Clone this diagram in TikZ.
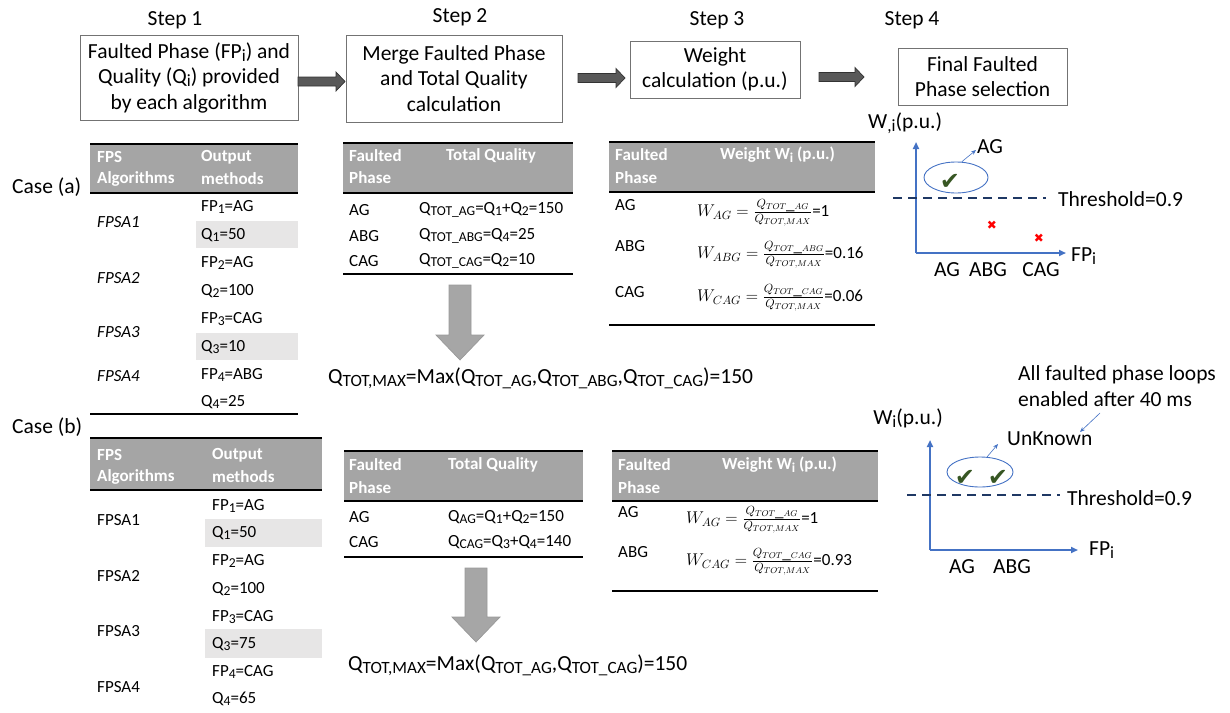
\documentclass[tikz,border=0pt]{standalone}
\usepackage{fix-cm}
\usepackage{fontspec}
\setmainfont{Carlito}
\newfontfamily\symfont{DejaVu Sans}
\usetikzlibrary{shapes.geometric,arrows.meta}
\definecolor{hdrgray}{HTML}{A5A5A5}
\definecolor{bandgray}{HTML}{E7E6E6}
\definecolor{axisblue}{HTML}{4472C4}
\definecolor{navy}{HTML}{1F3864}
\definecolor{okgreen}{HTML}{375623}
\definecolor{fatgray}{HTML}{595959}
\definecolor{downgray}{HTML}{A6A6A6}
\newcommand\fbig{\fontsize{21.5}{25.5}\selectfont}
\newcommand\ftab{\fontsize{17}{20}\selectfont}
\makeatletter
\newcommand\sbs[1]{\raisebox{-0.3ex}{\fontsize{\the\dimexpr 0.8\dimexpr\f@size pt\relax\relax}{0pt}\selectfont #1}}
\makeatother
% block arrow pointing right: x1, x2, y
\newcommand\fatarr[3]{\filldraw[fatarrow] (#1,#3-4.5) -- (#2-9,#3-4.5) -- (#2-9,#3-9.5) -- (#2,#3) -- (#2-9,#3+9.5) -- (#2-9,#3+4.5) -- (#1,#3+4.5) -- cycle;}
% block arrow pointing down: x, y1, y2
\newcommand\downarr[3]{\filldraw[downarrow] (#1-11,#2) -- (#1+11,#2) -- (#1+11,#3-25) -- (#1+24,#3-25) -- (#1,#3) -- (#1-24,#3-25) -- (#1-11,#3-25) -- cycle;}
\begin{document}
\begin{tikzpicture}[x=1pt,y=-1pt,
 stepbox/.style={draw=black!55, line width=0.8pt, align=center, font=\fbig, inner sep=0pt},
 biglbl/.style={font=\fbig, inner sep=0pt},
 tab/.style={font=\ftab, anchor=west, inner sep=0pt},
 hdr/.style={font=\ftab\bfseries, text=white, anchor=west, inner sep=0pt},
 rule/.style={line width=2.2pt},
 fatarrow/.style={draw=black!80, fill=fatgray, line width=0.7pt, line join=miter},
 downarrow/.style={draw=black!40, fill=downgray, line width=0.7pt, line join=miter},
 axis/.style={axisblue, line width=2pt, -{Triangle[length=7pt,width=6pt]}},
 thr/.style={navy, line width=1.5pt, dash pattern=on 9pt off 6pt},
 thinarrow/.style={axisblue, line width=0.6pt, -{Stealth[length=5pt,width=4pt]}},
 ring/.style={ellipse, draw=axisblue, line width=0.9pt, inner sep=0pt},
 check/.style={font=\symfont\fontsize{24}{26}\selectfont, text=okgreen, inner sep=0pt},
 xmark/.style={font=\symfont\fontsize{12}{14}\selectfont, text=red, inner sep=0pt}
]
\useasboundingbox (0,0) rectangle (1230,712);

% ---------- steps ----------
\node[biglbl] (s1) at (175,20) {Step 1};
\node[biglbl] (s2) at (460,17) {Step 2};
\node[biglbl] (s3) at (717,20) {Step 3};
\node[biglbl] (s4) at (912,20) {Step 4};

\node[stepbox, minimum width=218, minimum height=85] (b1) at (189,77.5) {Faulted Phase (FP\sbs{i}) and\\Quality (Q\sbs{i}) provided\\by each algorithm};
\node[stepbox, minimum width=216, minimum height=87] (b2) at (454,78.5) {Merge Faulted Phase\\and Total Quality\\calculation};
\node[stepbox, minimum width=170, minimum height=57] (b3) at (715,69.5) {Weight\\calculation (p.u.)};
\node[stepbox, minimum width=169, minimum height=57] (b4) at (982.5,76.5) {Final Faulted\\Phase selection};

\fatarr{298}{345}{81.5}
\fatarr{578}{625}{78}
\fatarr{819}{864}{77}

% ---------- case (a) ----------
\node[biglbl, anchor=west] (casea) at (12,187) {Case (a)};

% step 1 table (a)
\fill[hdrgray] (90,144) rectangle (298,193);
\fill[bandgray] (196,221) rectangle (298,248);
\fill[bandgray] (196,333) rectangle (298,360);
\draw[rule] (90,144) -- (298,144);
\draw[rule] (90,193) -- (298,193);
\draw[rule] (90,414) -- (298,414);
\node[hdr] (ha1) at (97,157) {FPS};
\node[hdr] (ha2) at (97,179) {Algorithms};
\node[hdr] (ha3) at (201,157) {Output};
\node[hdr] (ha4) at (201,179) {methods};
\node[tab, font=\ftab\itshape] (la1) at (97,222) {FPSA1};
\node[tab, font=\ftab\itshape] (la2) at (97,278) {FPSA2};
\node[tab, font=\ftab\itshape] (la3) at (97,332) {FPSA3};
\node[tab, font=\ftab\itshape] (la4) at (97,376) {FPSA4};
\node[tab] (ra1) at (201,207) {FP\sbs{1}=AG};
\node[tab] (ra2) at (201,235) {Q\sbs{1}=50};
\node[tab] (ra3) at (201,263) {FP\sbs{2}=AG};
\node[tab] (ra4) at (201,291) {Q\sbs{2}=100};
\node[tab] (ra5) at (201,319) {FP\sbs{3}=CAG};
\node[tab] (ra6) at (201,347) {Q\sbs{3}=10};
\node[tab] (ra7) at (201,375) {FP\sbs{4}=ABG};
\node[tab] (ra8) at (201,402) {Q\sbs{4}=25};

% step 2 table (a)
\fill[hdrgray] (343,143) rectangle (573,193);
\draw[rule] (343,143) -- (573,143);
\draw[rule] (343,193) -- (573,193);
\draw[rule] (343,274) -- (573,274);
\node[hdr] (hb1) at (349,156) {Faulted};
\node[hdr] (hb2) at (349,178) {Phase};
\node[hdr] (hb3) at (446,156) {Total Quality};
\node[tab] (pb1) at (349,210) {AG};
\node[tab] (pb2) at (349,236) {ABG};
\node[tab] (pb3) at (349,261) {CAG};
\node[tab] (qb1) at (419,210) {Q\sbs{TOT\_AG}=Q\sbs{1}+Q\sbs{2}=150};
\node[tab] (qb2) at (419,236) {Q\sbs{TOT\_ABG}=Q\sbs{4}=25};
\node[tab] (qb3) at (419,261) {Q\sbs{TOT\_CAG}=Q\sbs{2}=10};
\downarr{460}{285}{360}
\node[biglbl, anchor=west] (qmaxa) at (328,378) {Q\sbs{TOT,MAX}=Max(Q\sbs{TOT\_AG},Q\sbs{TOT\_ABG},Q\sbs{TOT\_CAG})=150};

% step 3 table (a)
\fill[hdrgray] (609,142) rectangle (875,192);
\draw[rule] (609,142) -- (875,142);
\draw[rule] (609,192) -- (875,192);
\draw[rule] (609,325) -- (875,325);
\node[hdr] (hc1) at (615,155) {Faulted};
\node[hdr] (hc2) at (615,178) {Phase};
\node[hdr] (hc3) at (720,155) {Weight W\sbs{i} (p.u.)};
\node[tab] (pc1) at (615,205) {AG};
\node[tab] (pc2) at (615,246) {ABG};
\node[tab] (pc3) at (615,292) {CAG};
\node[tab] (wc1) at (697,213) {$W_{AG}=\frac{Q_{TOT\_AG}}{Q_{TOT,MAX}}$=1};
\node[tab] (wc2) at (697,255) {$W_{ABG}=\frac{Q_{TOT\_ABG}}{Q_{TOT,MAX}}$=0.16};
\node[tab] (wc3) at (697,298) {$W_{CAG}=\frac{Q_{TOT\_CAG}}{Q_{TOT,MAX}}$=0.06};

% chart (a)
\coordinate (oa) at (916,253);
\coordinate (oay) at (916,142);
\coordinate (oax) at (1066,253);
\draw[axis] (oa) -- (oay);
\draw[axis] (oa) -- (oax);
\coordinate (ta1) at (893,198);
\coordinate (ta2) at (1046,198);
\draw[thr] (ta1) -- (ta2);
\node[biglbl, anchor=west] (thra) at (1058,199) {Threshold=0.9};
\node[biglbl, anchor=west] (wa) at (868,123) {W\sbs{,i}(p.u.)};
\node[ring, minimum width=64, minimum height=31] (ela) at (956,177.5) {};
\node[check] (cka) at (950,182) {✔};
\node[biglbl] (aga) at (990,147) {AG};
\coordinate (agtip) at (976,150);
\draw[thinarrow] (ela.70) -- (agtip);
\node[xmark] (xa1) at (992,225) {✖};
\node[xmark] (xa2) at (1039,238) {✖};
\node[biglbl, anchor=west] (fpa) at (1071,256) {FP\sbs{i}};
\node[biglbl] (xla1) at (947,270) {AG};
\node[biglbl] (xla2) at (988,270) {ABG};
\node[biglbl] (xla3) at (1041,270) {CAG};

% ---------- case (b) ----------
\node[biglbl, anchor=west] (caseb) at (12,427) {Case (b)};

% step 1 table (b)
\fill[hdrgray] (90,438) rectangle (322,490);
\fill[bandgray] (205,519) rectangle (322,547);
\fill[bandgray] (205,629) rectangle (322,658);
\draw[rule] (90,438) -- (322,438);
\draw[rule] (90,490) -- (322,490);
\node[hdr] (hd1) at (97,455) {FPS};
\node[hdr] (hd2) at (97,477) {Algorithms};
\node[hdr] (hd3) at (212,455) {Output};
\node[hdr] (hd4) at (212,477) {methods};
\node[tab] (ld1) at (97,520) {FPSA1};
\node[tab] (ld2) at (97,576) {FPSA2};
\node[tab] (ld3) at (97,631) {FPSA3};
\node[tab] (ld4) at (97,687) {FPSA4};
\node[tab] (rd1) at (212,506) {FP\sbs{1}=AG};
\node[tab] (rd2) at (212,533) {Q\sbs{1}=50};
\node[tab] (rd3) at (212,561) {FP\sbs{2}=AG};
\node[tab] (rd4) at (212,589) {Q\sbs{2}=100};
\node[tab] (rd5) at (212,617) {FP\sbs{3}=CAG};
\node[tab] (rd6) at (212,644) {Q\sbs{3}=75};
\node[tab] (rd7) at (212,672) {FP\sbs{4}=CAG};
\node[tab] (rd8) at (212,699) {Q\sbs{4}=65};

% step 2 table (b)
\fill[hdrgray] (344,451) rectangle (583,501);
\draw[rule] (344,451) -- (583,451);
\draw[rule] (344,501) -- (583,501);
\draw[rule] (344,557) -- (583,557);
\node[hdr] (he1) at (349,465) {Faulted};
\node[hdr] (he2) at (349,488) {Phase};
\node[hdr] (he3) at (448,465) {Total Quality};
\node[tab] (pe1) at (349,517) {AG};
\node[tab] (pe2) at (349,542) {CAG};
\node[tab] (qe1) at (448,517) {Q\sbs{AG}=Q\sbs{1}+Q\sbs{2}=150};
\node[tab] (qe2) at (448,542) {Q\sbs{CAG}=Q\sbs{3}+Q\sbs{4}=140};
\downarr{476}{568}{642}
\node[biglbl, anchor=west] (qmaxb) at (348,665) {Q\sbs{TOT,MAX}=Max(Q\sbs{TOT\_AG},Q\sbs{TOT\_CAG})=150};

% step 3 table (b)
\fill[hdrgray] (612,451) rectangle (878,501);
\draw[rule] (612,451) -- (878,451);
\draw[rule] (612,501) -- (878,501);
\draw[rule] (612,591) -- (878,591);
\node[hdr] (hf1) at (618,465) {Faulted};
\node[hdr] (hf2) at (618,488) {Phase};
\node[hdr] (hf3) at (722,465) {Weight W\sbs{i} (p.u.)};
\node[tab] (pf1) at (618,512) {AG};
\node[tab] (pf2) at (618,552) {ABG};
\node[tab] (wf1) at (686,520) {$W_{AG}=\frac{Q_{TOT\_AG}}{Q_{TOT,MAX}}$=1};
\node[tab] (wf2) at (686,562) {$W_{CAG}=\frac{Q_{TOT\_CAG}}{Q_{TOT,MAX}}$=0.93};

% chart (b)
\coordinate (ob) at (930,550);
\coordinate (oby) at (930,440);
\coordinate (obx) at (1078,550);
\draw[axis] (ob) -- (oby);
\draw[axis] (ob) -- (obx);
\coordinate (tb1) at (907,495);
\coordinate (tb2) at (1060,495);
\draw[thr] (tb1) -- (tb2);
\node[biglbl, anchor=west] (thrb) at (1067,498) {Threshold=0.9};
\node[biglbl, anchor=east] (wb) at (943,418) {W\sbs{i}(p.u.)};
\node[ring, minimum width=66, minimum height=30] (elb) at (980,472) {};
\node[check] (ckb1) at (965,478) {✔};
\node[check] (ckb2) at (998,478) {✔};
\node[biglbl, anchor=west] (unk) at (1007,439) {UnKnown};
\coordinate (unktip) at (998,444);
\draw[thinarrow] (elb.65) -- (unktip);
\node[biglbl, anchor=west, align=left] (note) at (1018,386) {All faulted phase loops\\enabled after 40 ms};
\coordinate (notefrom) at (1100,413);
\coordinate (notetip) at (1080,432);
\draw[thinarrow] (notefrom) -- (notetip);
\node[biglbl, anchor=west] (fpb) at (1089,550) {FP\sbs{i}};
\node[biglbl] (xlb1) at (962,567) {AG};
\node[biglbl] (xlb2) at (1012,567) {ABG};
\end{tikzpicture}
\end{document}
